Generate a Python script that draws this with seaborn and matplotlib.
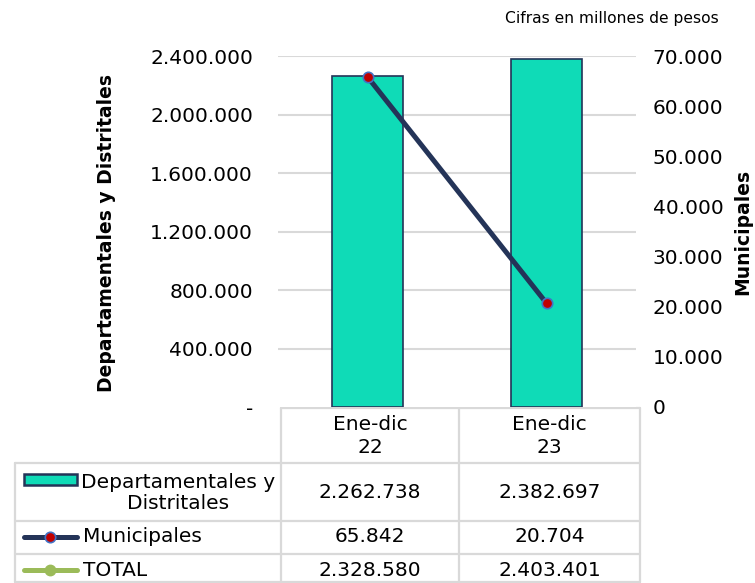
import matplotlib
matplotlib.use("Agg")
import matplotlib.pyplot as plt
import seaborn as sns
import pandas as pd
from matplotlib.lines import Line2D
from matplotlib.patches import Rectangle

# ---------------- data ----------------
categories = ["Ene-dic\n22", "Ene-dic\n23"]
dept_values = [2262738, 2382697]
muni_values = [65842, 20704]
total_values = [2328580, 2403401]
series_names = ["Departamentales y\nDistritales", "Municipales", "TOTAL"]
left_ticks = [0, 400000, 800000, 1200000, 1600000, 2000000, 2400000]
right_ticks = [0, 10000, 20000, 30000, 40000, 50000, 60000, 70000]
title_text = "Cifras en millones de pesos"
left_label = "Departamentales y Distritales"
right_label = "Municipales"


def fmt(v):
    return f"{v:,}".replace(",", ".")


left_tick_labels = ["-" if v == 0 else fmt(v) for v in left_ticks]
right_tick_labels = [fmt(v) for v in right_ticks]

# ---------------- style ----------------
sns.set_theme(style="white")
plt.rcParams["font.family"] = ["DejaVu Sans"]

BAR = "#0FDBB7"
NAVY = "#243458"
RED = "#C00000"
BLUE_EDGE = "#4472C4"
GREEN = "#9BBB59"
GRID = "#D9D9D9"
TXT = "#000000"
FS = 14.5
FSB = 13.5

W, H = 755, 583
fig = plt.figure(figsize=(W / 100, H / 100), dpi=100)

# plot area in pixels
px0, px1, py0, py1 = 278, 636, 56, 407
ax = fig.add_axes([px0 / W, (H - py1) / H, (px1 - px0) / W, (py1 - py0) / H])

df = pd.DataFrame({"cat": categories, "dept": dept_values, "muni": muni_values})

sns.barplot(data=df, x="cat", y="dept", ax=ax, color=BAR, width=0.4,
            edgecolor=NAVY, linewidth=1.2, saturation=1, zorder=3)
ax.set_xlim(-0.5, 1.5)
ax.set_ylim(0, 2400000)
ax.set_yticks(left_ticks)
ax.set_yticklabels(left_tick_labels, fontsize=FS, color=TXT)
ax.tick_params(axis="y", length=0, pad=18)
ax.set_xticks([])
ax.set_xlabel("")
ax.set_ylabel("")
for y in left_ticks[1:]:
    ax.axhline(y, color=GRID, lw=1.5, zorder=1)
for s in ax.spines.values():
    s.set_visible(False)

ax2 = ax.twinx()
dfl = pd.DataFrame({"x": [0, 1], "muni": muni_values})
sns.lineplot(data=dfl, x="x", y="muni", ax=ax2, color=NAVY, lw=3.6,
             marker="o", markersize=7.5, markerfacecolor=RED,
             markeredgecolor=BLUE_EDGE, markeredgewidth=1.2, zorder=4)
ax2.set_xlim(-0.5, 1.5)
ax2.set_ylim(0, 70000)
ax2.set_yticks(right_ticks)
ax2.set_yticklabels(right_tick_labels, fontsize=FS, color=TXT)
ax2.tick_params(axis="y", length=0, pad=12)
ax2.set_xlabel("")
ax2.set_ylabel("")
for s in ax2.spines.values():
    s.set_visible(False)

# ---------------- overlay for title, axis labels and data table ----------------
ov = fig.add_axes([0, 0, 1, 1], zorder=-1)
ov.set_xlim(0, W)
ov.set_ylim(H, 0)
ov.axis("off")

ov.text(612, 19, title_text, fontsize=11.2, ha="center", va="center", color=TXT)
ov.text(107, 233, left_label, fontsize=FSB, fontweight="bold", rotation=90,
        ha="center", va="center", color=TXT)
ov.text(743, 232, right_label, fontsize=FSB, fontweight="bold", rotation=90,
        ha="center", va="center", color=TXT)

cx = [15, 281, 459, 640]
ry = [408, 463, 521, 554, 582]
lw = 1.6
ov.add_line(Line2D([cx[1], cx[3]], [ry[0], ry[0]], color=GRID, lw=lw))
for x in cx[1:]:
    ov.add_line(Line2D([x, x], [ry[0], ry[-1]], color=GRID, lw=lw))
ov.add_line(Line2D([cx[0], cx[0]], [ry[1], ry[-1]], color=GRID, lw=lw))
for y in ry[1:]:
    ov.add_line(Line2D([cx[0], cx[3]], [y, y], color=GRID, lw=lw))

col_centers = [(cx[1] + cx[2]) / 2, (cx[2] + cx[3]) / 2]
for c, lab in zip(col_centers, categories):
    ov.text(c, 436, lab, fontsize=FS, ha="center", va="center",
            linespacing=1.28, color=TXT)

row_centers = [493, 537, 570]
rows = [dept_values, muni_values, total_values]
for yc, vals in zip(row_centers, rows):
    for c, v in zip(col_centers, vals):
        ov.text(c, yc, fmt(v), fontsize=FS, ha="center", va="center", color=TXT)

# legend keys
ov.add_patch(Rectangle((24, 474), 53, 11, facecolor=BAR, edgecolor=NAVY, lw=1.8))
ov.text(178, 493, series_names[0], fontsize=FS, ha="center", va="center",
        linespacing=1.15, color=TXT)
ov.add_line(Line2D([24, 77], [537, 537], color=NAVY, lw=3.6, solid_capstyle="round"))
ov.plot([50], [537], marker="o", markersize=7.5, markerfacecolor=RED,
        markeredgecolor=BLUE_EDGE, markeredgewidth=1.2)
ov.text(83, 537, series_names[1], fontsize=FS, ha="left", va="center", color=TXT)
ov.add_line(Line2D([24, 77], [570, 570], color=GREEN, lw=3.6, solid_capstyle="round"))
ov.plot([50], [570], marker="o", markersize=7.5, color=GREEN)
ov.text(83, 570, series_names[2], fontsize=FS, ha="left", va="center", color=TXT)

fig.savefig("out.png", dpi=100)
